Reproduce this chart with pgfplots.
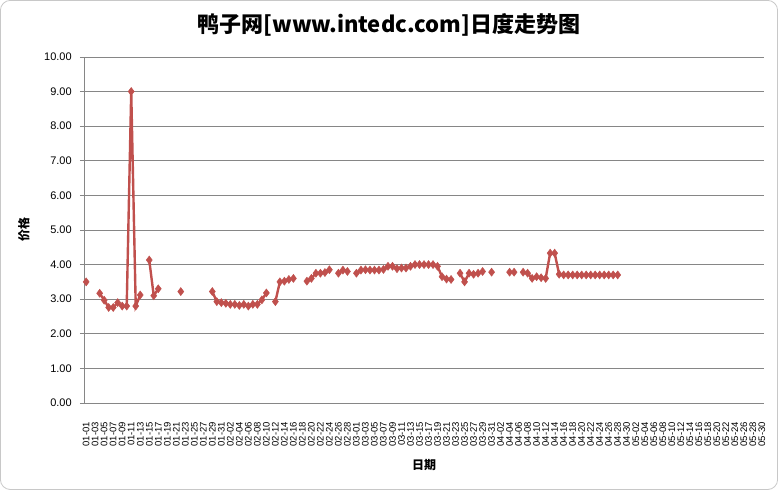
\documentclass[border=0pt]{standalone}
\usepackage{pgfplots}
\pgfplotsset{compat=1.18}
\usepackage{fontspec}
\setmainfont{Liberation Sans}
\newfontfamily\cjk{Noto Sans CJK SC}
\definecolor{dred}{RGB}{192,80,77}
\definecolor{gridgray}{RGB}{134,134,134}
\definecolor{framegray}{RGB}{200,200,200}
\pgfplotstableread{
x y
0 3.50
1 nan
3 3.17
4 2.97
5 2.76
6 2.76
7 2.90
8 2.80
9 2.80
10 9.00
11 2.80
12 3.12
13 nan
14 4.13
15 3.10
16 3.30
17 nan
21 3.22
22 nan
28 3.22
29 2.93
30 2.90
31 2.88
32 2.85
33 2.85
34 2.82
35 2.85
36 2.80
37 2.85
38 2.85
39 2.98
40 3.18
41 nan
42 2.93
43 3.50
44 3.52
45 3.57
46 3.60
47 nan
49 3.52
50 3.60
51 3.75
52 3.75
53 3.77
54 3.85
55 nan
56 3.75
57 3.84
58 3.80
59 nan
60 3.75
61 3.84
62 3.85
63 3.84
64 3.84
65 3.84
66 3.86
67 3.95
68 3.95
69 3.88
70 3.90
71 3.90
72 3.95
73 4.00
74 4.00
75 4.00
76 4.00
77 4.00
78 3.95
79 3.65
80 3.58
81 3.57
82 nan
83 3.75
84 3.50
85 3.75
86 3.72
87 3.75
88 3.80
89 nan
90 3.78
91 nan
94 3.78
95 3.78
96 nan
97 3.78
98 3.75
99 3.60
100 3.65
101 3.62
102 3.60
103 4.33
104 4.33
105 3.72
106 3.70
107 3.70
108 3.70
109 3.70
110 3.70
111 3.70
112 3.70
113 3.70
114 3.70
115 3.70
116 3.70
117 3.70
118 3.70
}\ducks
\begin{document}
\begin{tikzpicture}
\draw[rounded corners=10pt, color=framegray, line width=0.8pt] (0.5pt,0.5pt) rectangle (777.5pt,489.5pt);
\node[font=\cjk\bfseries\fontsize{22}{24}\selectfont] at (389pt,465pt) {鸭子网[www.intedc.com]日度走势图};
\node[rotate=90, font=\cjk\bfseries\fontsize{12}{14}\selectfont] at (24pt,260pt) {价格};
\node[font=\cjk\bfseries\fontsize{12}{14}\selectfont] at (424pt,25pt) {日期};
\begin{axis}[
  at={(84pt,87pt)}, anchor=south west,
  scale only axis, width=680pt, height=346pt,
  xmin=-0.5, xmax=150.5, ymin=0, ymax=10,
  axis lines*=left,
  axis line style={draw=gridgray, line width=0.8pt},
  ymajorgrids, grid style={draw=gridgray, line width=0.8pt},
  tick align=outside, major tick length=4pt,
  xtick style={draw=none}, ytick style={draw=gridgray, line width=0.8pt},
  ytick={0,1,...,10},
  yticklabel style={font=\fontsize{11}{13}\selectfont, inner sep=0pt, xshift=-8pt,
    /pgf/number format/.cd, fixed, fixed zerofill, precision=2, assume math mode=true},
  xtick={0,2,...,150},
  xticklabels={01-01,01-03,01-05,01-07,01-09,01-11,01-13,01-15,01-17,01-19,01-21,01-23,01-25,01-27,01-29,01-31,
    02-02,02-04,02-06,02-08,02-10,02-12,02-14,02-16,02-18,02-20,02-22,02-24,02-26,02-28,
    03-01,03-03,03-05,03-07,03-09,03-11,03-13,03-15,03-17,03-19,03-21,03-23,03-25,03-27,03-29,03-31,
    04-02,04-04,04-06,04-08,04-10,04-12,04-14,04-16,04-18,04-20,04-22,04-24,04-26,04-28,04-30,
    05-02,05-04,05-06,05-08,05-10,05-12,05-14,05-16,05-18,05-20,05-22,05-24,05-26,05-28,05-30},
  xticklabel style={yshift=-15pt, rotate=90, anchor=east, inner sep=0pt, font=\fontsize{9.5}{11}\selectfont},
  unbounded coords=jump,
  clip=false,
]
\addplot[color=dred, line width=2.4pt, mark=diamond*, mark size=4pt, mark options={solid, fill=dred, line width=0.5pt}] table[x=x, y=y] {\ducks};
\end{axis}
\end{tikzpicture}
\end{document}
